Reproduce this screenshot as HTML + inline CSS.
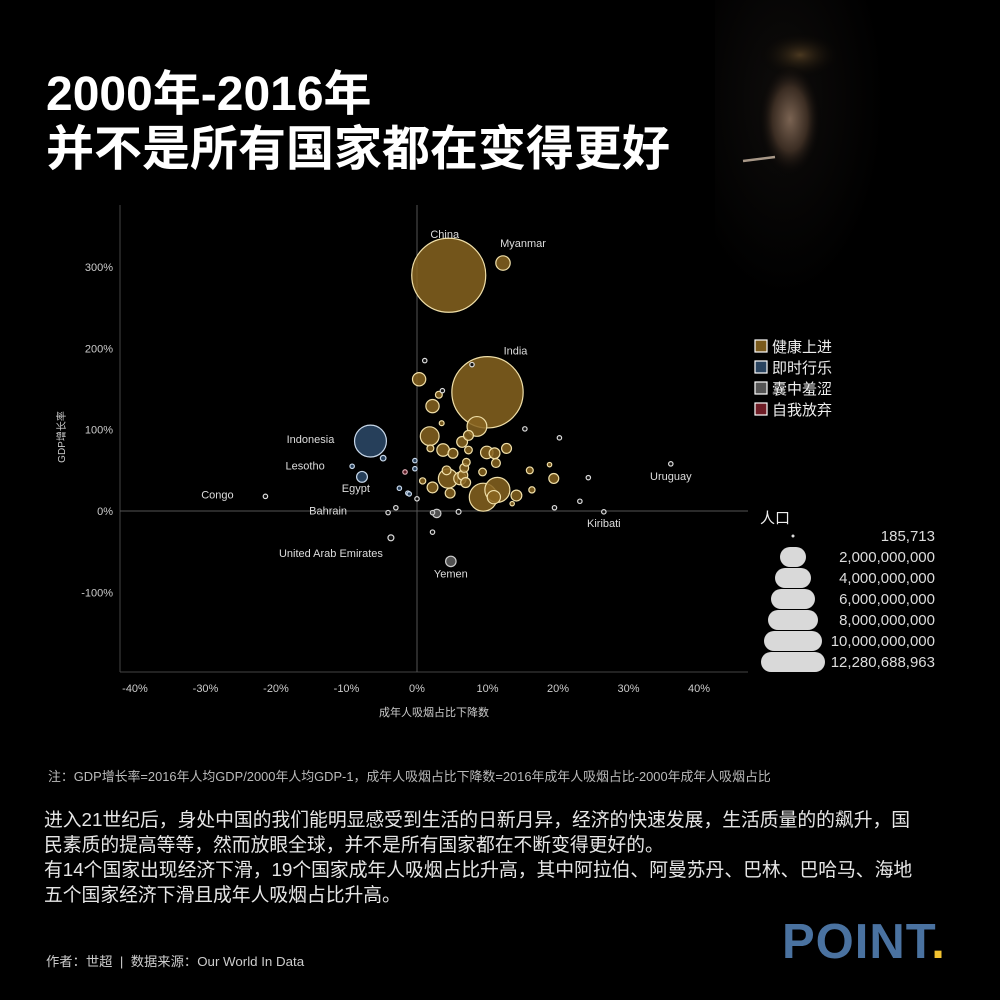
<!DOCTYPE html>
<html><head><meta charset="utf-8">
<style>
body{margin:0;background:#000;width:1000px;height:1000px;overflow:hidden;font-family:"Liberation Sans","Noto Sans CJK SC",sans-serif;color:#fff}
#wrap{position:relative;width:1000px;height:1000px;background:#000}
.t{position:absolute;white-space:nowrap}
</style></head><body>
<div id="wrap">
<svg class="t" style="left:700px;top:0" width="300" height="330">
<defs>
<radialGradient id="face" cx="50%" cy="45%" r="50%"><stop offset="0" stop-color="#7a6352"/><stop offset="0.55" stop-color="#3a2c22"/><stop offset="1" stop-color="#000" stop-opacity="0"/></radialGradient>
<radialGradient id="hair" cx="50%" cy="50%" r="50%"><stop offset="0" stop-color="#4a3820"/><stop offset="1" stop-color="#000" stop-opacity="0"/></radialGradient>
<radialGradient id="bg" cx="40%" cy="30%" r="60%"><stop offset="0" stop-color="#0e0c0b"/><stop offset="1" stop-color="#000"/></radialGradient>
</defs>
<rect x="15" y="0" width="170" height="330" fill="url(#bg)"/>
<ellipse cx="100" cy="55" rx="42" ry="24" fill="url(#hair)"/>
<ellipse cx="90" cy="125" rx="32" ry="58" fill="url(#face)"/>
<line x1="43" y1="161" x2="75" y2="157" stroke="#a89888" stroke-width="2.5"/>
</svg>
<div class="t" style="left:46px;top:67px;font-size:48px;font-weight:bold;line-height:55px">2000年-2016年<br>并不是所有国家都在变得更好</div>
<svg id="chart" class="t" style="left:0;top:0" width="1000" height="760"></svg>
<div class="t" style="left:48px;top:766px;font-size:12.9px;color:#bbb">注：GDP增长率=2016年人均GDP/2000年人均GDP-1，成年人吸烟占比下降数=2016年成年人吸烟占比-2000年成年人吸烟占比</div>
<div class="t" style="left:44px;top:807px;font-size:18.8px;color:#e6e6e6;line-height:25px">进入21世纪后，身处中国的我们能明显感受到生活的日新月异，经济的快速发展，生活质量的的飙升，国<br>民素质的提高等等，然而放眼全球，并不是所有国家都在不断变得更好的。<br>有14个国家出现经济下滑，19个国家成年人吸烟占比升高，其中阿拉伯、阿曼苏丹、巴林、巴哈马、海地<br>五个国家经济下滑且成年人吸烟占比升高。</div>
<div class="t" style="left:46px;top:951px;font-size:13.3px;color:#ccc">作者：世超 &nbsp;| &nbsp;数据来源：Our World In Data</div>
<div class="t" style="left:782px;top:914px;font-size:49px;font-weight:bold;color:#4a72a0;letter-spacing:1px">POINT<span style="color:#f2c230">.</span></div>
</div>
<script>
const xTicks=[-40,-30,-20,-10,0,10,20,30,40];
const yTicks=[-100,0,100,200,300];
const names=["China","Myanmar","India","Indonesia","Lesotho","Congo","Egypt","Bahrain","United Arab Emirates","Yemen","Kiribati","Uruguay"];
const xVals=[4.5,12.2,10,-6.6,-9.2,-21.5,-1.3,-4.1,-3.7,4.8,26.5,36,0.3,3.1,2.2,3.5,1.8,3.7,5.1,1.9,7.3,7.3,8.5,9.9,11,11.2,12.7,7,6.7,4.4,6.1,6.5,0.8,2.2,4.7,2.8,9.4,11.4,10.9,14.1,16,16.3,19.4,18.8,-4.8,-0.3,-7.8,-0.3,-1.1,-2.5,-3,0,2.2,2.2,5.9,13.5,24.3,23.1,20.2,-1.7,1.1,7.8,3.6,15.3,19.5,4.2,6.9,9.3,6.4];
const yVals=[290,305,146,86,55,18,22,-2,-33,-62,-1,58,162,143,129,108,92,75,71,77,93,75,104,72,71,59,77,60,53,40,40,44,37,29,22,-3,17,26,17,19,50,26,40,57,65,62,42,52,21,28,4,15,-26,-2,-1,9,41,12,90,48,185,180,148,101,4,50,35,48,85];
const pops=[1400,53,1300,260,2.2,5,3,1.5,9,28,0.1,3.4,45,12,45,6,90,40,25,12,25,15,100,40,30,20,25,15,20,95,40,25,10,30,25,18,200,160,45,30,12,10,25,5,8,1,30,0.5,2,4,1,1,3,2,6,5,1,1,2,1,0.5,0.5,0.5,0.5,0.5,20,25,15,30];
const cats=["g","g","g","b","b","w","b","w","w","k","w","w","g","g","g","g","g","g","g","g","g","g","g","g","g","g","g","g","g","g","g","g","g","g","g","k","g","g","g","g","g","g","g","g","b","b","b","b","b","b","w","w","w","k","w","g","w","w","w","r","w","w","w","w","w","g","g","g","g"];
const labelNames=["China","Myanmar","India","Indonesia","Lesotho","Congo","Egypt","Bahrain","United Arab Emirates","Yemen","Kiribati","Uruguay"];
const labelDx=[-4,20,28,-60,-47,-48,-52,-60,-60,0,0,0];
const labelDy=[-37,-16,-38,2,3,2,-1,2,19,16,15,16];
const sizeLabels=["185,713","2,000,000,000","4,000,000,000","6,000,000,000","8,000,000,000","10,000,000,000","12,280,688,963"];
const legendNames=["健康上进","即时行乐","囊中羞涩","自我放弃"];
const legendColors=["#7a5a1c","#2a4460","#555555","#6e1d26"];

const NS="http://www.w3.org/2000/svg";
const svg=document.getElementById('chart');
const X=v=>417+v*7.05;
const Y=v=>511-v*0.813;
const R=p=>Math.max(2.2,37*Math.sqrt(p/1400));
function mk(tag,attrs,parent){const e=document.createElementNS(NS,tag);for(const k in attrs)e.setAttribute(k,attrs[k]);(parent||svg).appendChild(e);return e;}
let a=mk('line',{x1:120,y1:205,x2:120,y2:672,stroke:'#444','stroke-width':1});


a=mk('line',{x1:120,y1:672,x2:748,y2:672,stroke:'#444','stroke-width':1});


a=mk('line',{x1:X(0),y1:205,x2:X(0),y2:672,stroke:'#555','stroke-width':1});


a=mk('line',{x1:120,y1:Y(0),x2:748,y2:Y(0),stroke:'#555','stroke-width':1});


xTicks.forEach(t=>{const e=mk('text',{x:X(t),y:692,'text-anchor':'middle',fill:'#ccc','font-size':11});e.textContent=t+'%';

});
yTicks.forEach(t=>{const e=mk('text',{x:113,y:Y(t)+4,'text-anchor':'end',fill:'#ccc','font-size':11});e.textContent=t+'%';

});
let e=mk('text',{x:434,y:716,'text-anchor':'middle',fill:'#ccc','font-size':11});e.textContent='成年人吸烟占比下降数';


e=mk('text',{x:0,y:0,'text-anchor':'middle',fill:'#ccc','font-size':10,transform:'translate(65,437) rotate(-90)'});e.textContent='GDP增长率';


const idx=xVals.map((_,i)=>i).sort((a,b)=>pops[b]-pops[a]);
const fills={g:'rgba(135,100,32,0.85)',b:'rgba(40,66,95,0.95)',k:'rgba(85,85,85,0.95)',r:'rgba(100,30,40,0.9)',w:'#111'};
const strokes={g:'#f0dfa8',b:'#c8d8ea',k:'#cccccc',r:'#e0b0b8',w:'#ddd'};
idx.forEach(i=>{const c=mk('circle',{cx:X(xVals[i]),cy:Y(yVals[i]),r:R(pops[i]),fill:fills[cats[i]],stroke:strokes[cats[i]],'stroke-width':1.2});

});
labelNames.forEach((n,j)=>{const i=names.indexOf(n);const t=mk('text',{x:X(xVals[i])+labelDx[j],y:Y(yVals[i])+labelDy[j],'text-anchor':'middle',fill:'#ddd','font-size':11});t.textContent=n;

});
legendNames.forEach((n,i)=>{const y=346+i*21;
const r=mk('rect',{x:755,y:y-6,width:12,height:12,fill:legendColors[i],stroke:'#fff','stroke-width':1.2});


const t=mk('text',{x:772,y:y+6,fill:'#eee','font-size':15});t.textContent=n;

});
e=mk('text',{x:760,y:523,fill:'#eee','font-size':15});e.textContent='人口';


const sw=[3,26,36,44,50,58,64];
sizeLabels.forEach((s,i)=>{const y=536+i*21;
if(i==0){const c=mk('circle',{cx:793,cy:y,r:1.5,fill:'#ddd'});}
else{const c=mk('rect',{x:793-sw[i]/2,y:y-10,width:sw[i],height:20,rx:10,fill:'#d9d9d9'});}
const t=mk('text',{x:935,y:y+5,'text-anchor':'end',fill:'#ddd','font-size':15});t.textContent=s;

});
</script>
</body></html>
